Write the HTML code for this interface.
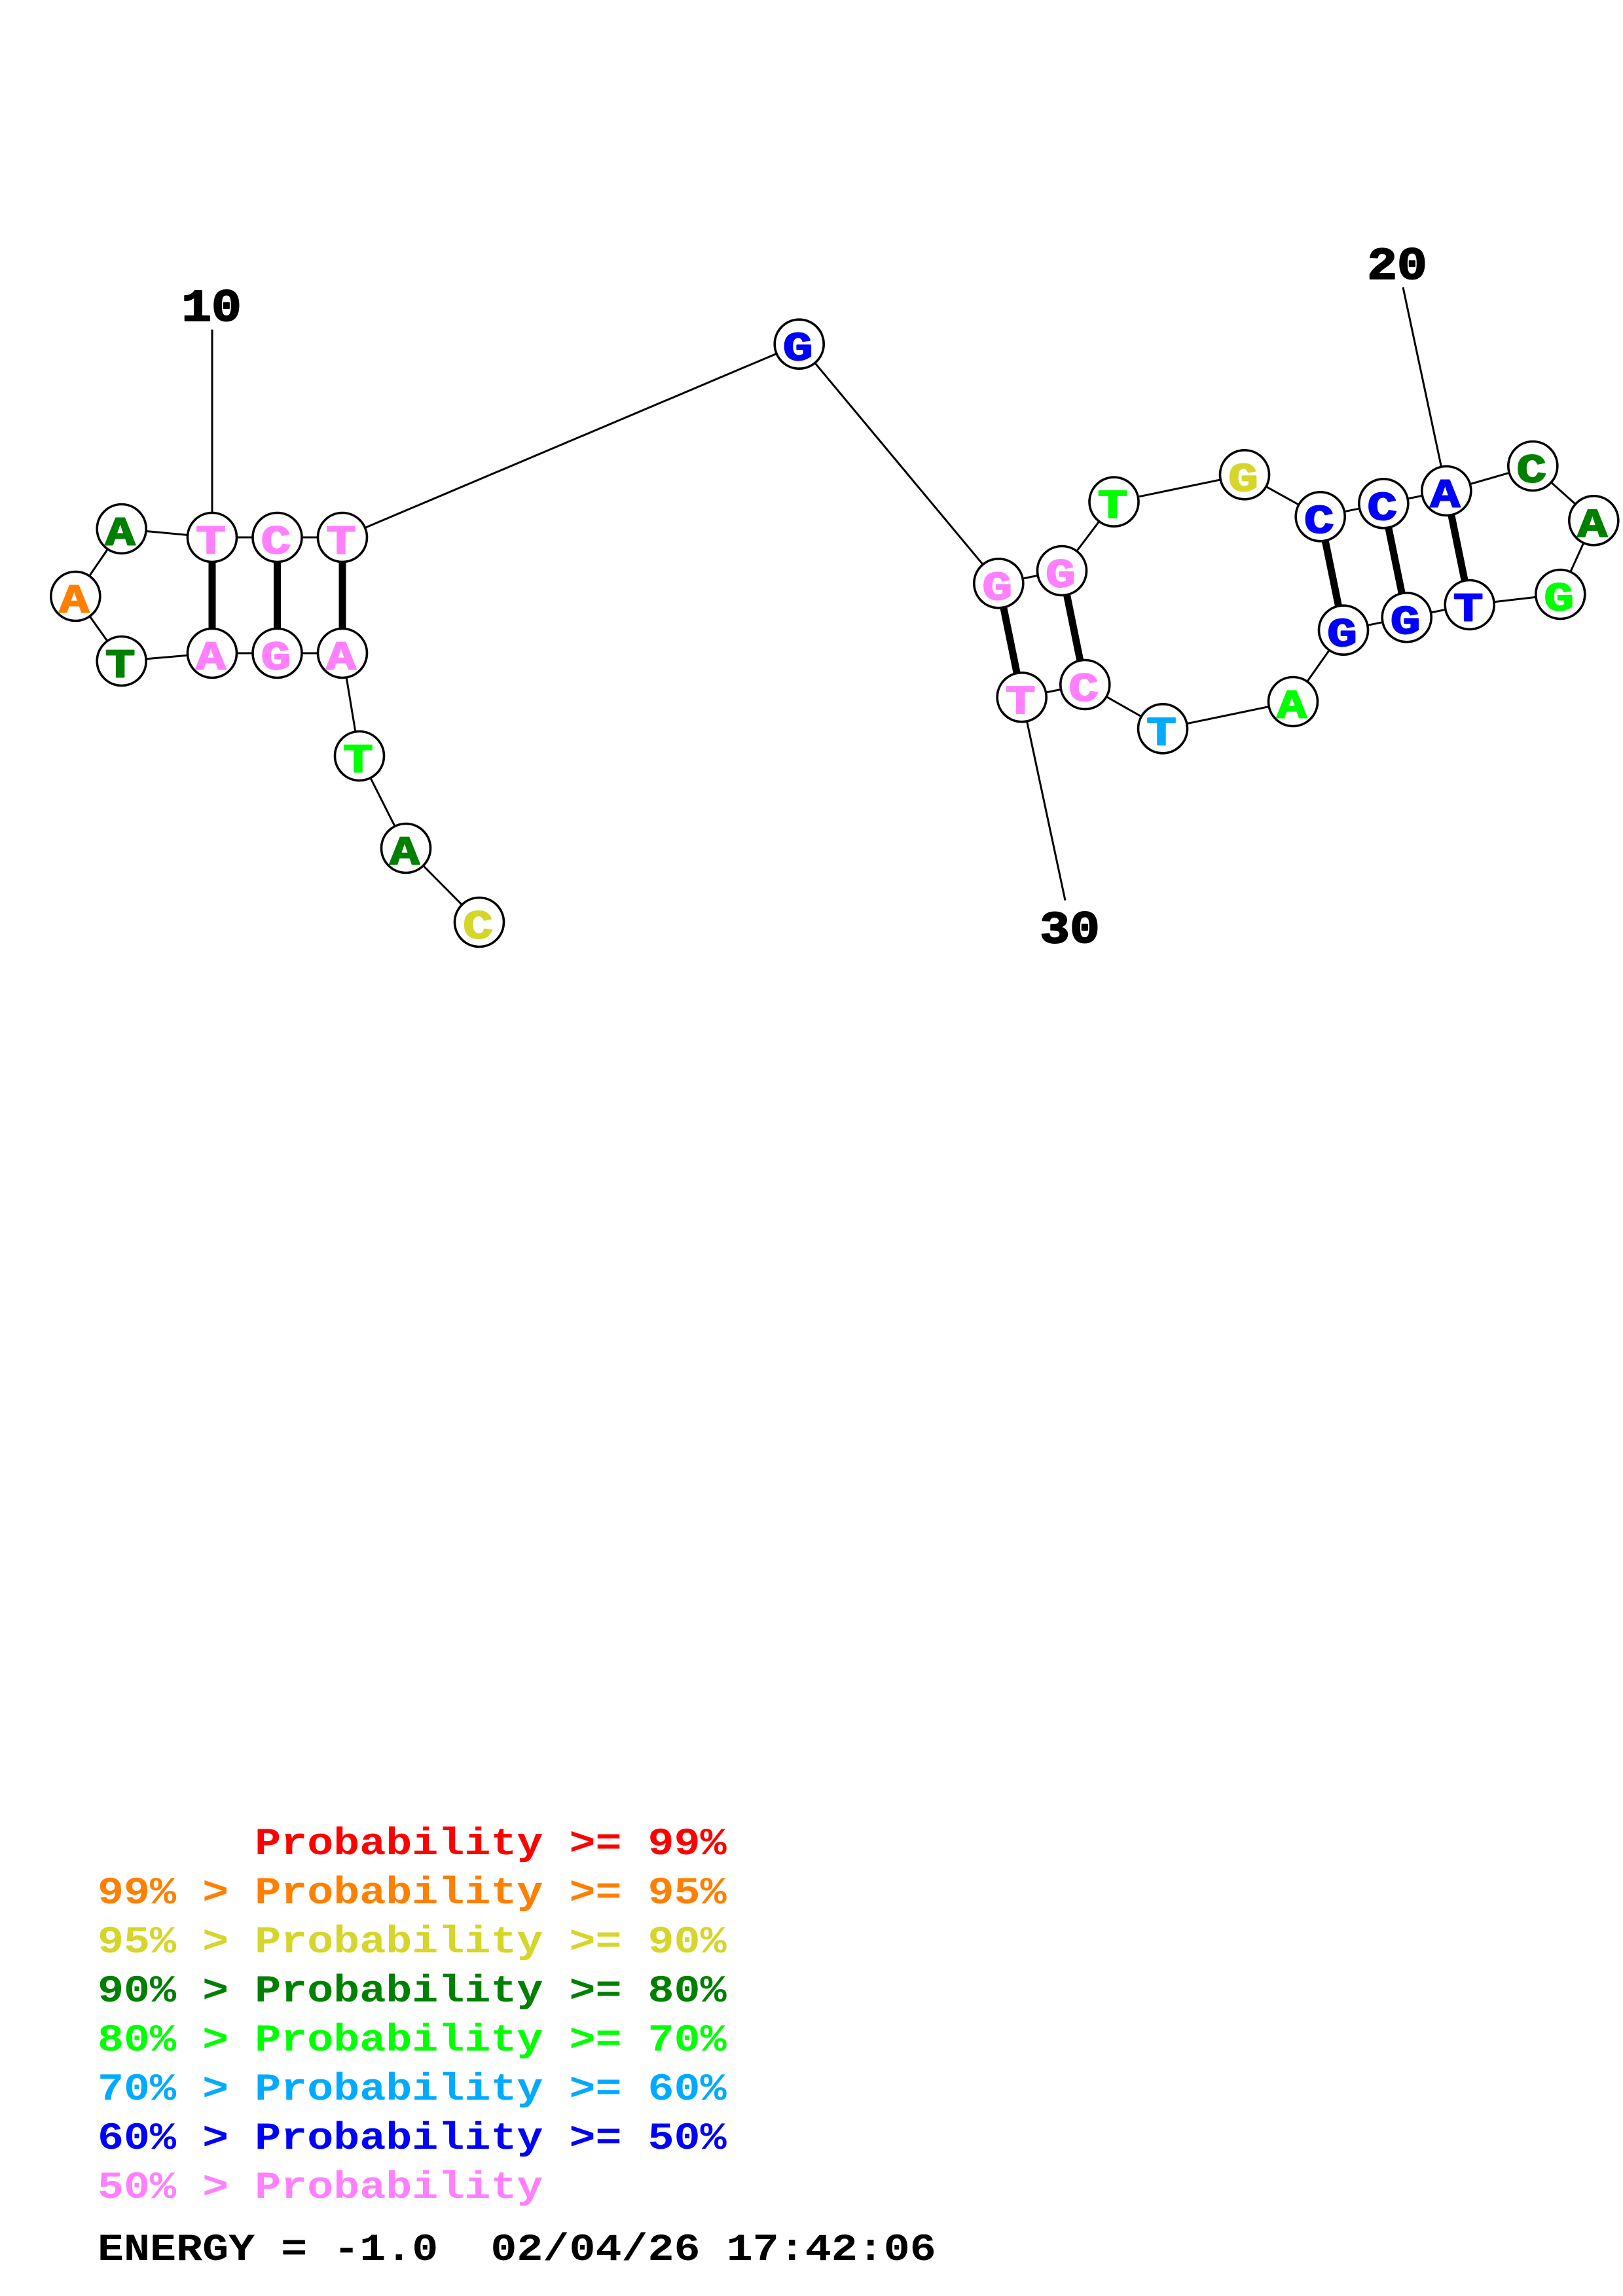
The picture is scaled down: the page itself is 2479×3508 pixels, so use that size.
<!DOCTYPE html>
<html><head><meta charset="utf-8"><style>
html,body{margin:0;padding:0;background:#fff}
svg{display:block}
.n{font:bold 62px "Liberation Mono",monospace;text-anchor:middle;stroke-width:2;stroke-linejoin:round;transform-box:fill-box;transform-origin:50% 50%;transform:translateY(-1px) scaleX(1.23)}
.l{font:bold 70px "Liberation Mono",monospace;text-anchor:middle;fill:#000;stroke:#000;stroke-width:2;stroke-linejoin:round;transform-box:fill-box;transform-origin:50% 50%;transform:scaleX(1.09)}
.g{font:bold 58px "Liberation Mono",monospace;white-space:pre}
</style></head><body>
<svg xmlns="http://www.w3.org/2000/svg" width="2479" height="3508" viewBox="0 0 2479 3508">
<rect width="2479" height="3508" fill="#fff"/>
<polyline fill="none" stroke="#000" stroke-width="3" points="732,1409 620,1296 549,1155 523,998 423.5,998 324,998 185.7,1010 115.3,911 185.7,808 324,821 423.5,821 523,821 1220.7,525.7 1525.3,891.3 1622,872 1701.5,766.7 1901,725.3 2016.7,789.3 2113.3,769.3 2209.3,750 2341.3,712 2434.3,795.3 2383.3,908 2244.7,924 2148.7,943.3 2052,962.7 1975,1072 1776,1113.3 1657.3,1046 1560.7,1065.3"/>
<g stroke="#000" stroke-width="3">
<line x1="324" y1="503.6" x2="324" y2="821"/>
<line x1="2143" y1="439" x2="2209.3" y2="750"/>
<line x1="1560.7" y1="1065.3" x2="1627" y2="1375.6"/>
</g>
<g stroke="#000" stroke-width="11">
<line x1="324" y1="821" x2="324" y2="998"/>
<line x1="423.5" y1="821" x2="423.5" y2="998"/>
<line x1="523" y1="821" x2="523" y2="998"/>
<line x1="1525.3" y1="891.3" x2="1560.7" y2="1065.3"/>
<line x1="1622" y1="872" x2="1657.3" y2="1046"/>
<line x1="2016.7" y1="789.3" x2="2052" y2="962.7"/>
<line x1="2113.3" y1="769.3" x2="2148.7" y2="943.3"/>
<line x1="2209.3" y1="750" x2="2244.7" y2="924"/>
</g>
<g fill="#fff" stroke="#000" stroke-width="3.6">
<circle cx="732" cy="1409" r="37.5"/><circle cx="620" cy="1296" r="37.5"/><circle cx="549" cy="1155" r="37.5"/>
<circle cx="523" cy="998" r="37.5"/><circle cx="423.5" cy="998" r="37.5"/><circle cx="324" cy="998" r="37.5"/>
<circle cx="185.7" cy="1010" r="37.5"/><circle cx="115.3" cy="911" r="37.5"/><circle cx="185.7" cy="808" r="37.5"/>
<circle cx="324" cy="821" r="37.5"/><circle cx="423.5" cy="821" r="37.5"/><circle cx="523" cy="821" r="37.5"/>
<circle cx="1220.7" cy="525.7" r="37.5"/><circle cx="1525.3" cy="891.3" r="37.5"/><circle cx="1622" cy="872" r="37.5"/>
<circle cx="1701.5" cy="766.7" r="37.5"/><circle cx="1901" cy="725.3" r="37.5"/><circle cx="2016.7" cy="789.3" r="37.5"/>
<circle cx="2113.3" cy="769.3" r="37.5"/><circle cx="2209.3" cy="750" r="37.5"/><circle cx="2341.3" cy="712" r="37.5"/>
<circle cx="2434.3" cy="795.3" r="37.5"/><circle cx="2383.3" cy="908" r="37.5"/><circle cx="2244.7" cy="924" r="37.5"/>
<circle cx="2148.7" cy="943.3" r="37.5"/><circle cx="2052" cy="962.7" r="37.5"/><circle cx="1975" cy="1072" r="37.5"/>
<circle cx="1776" cy="1113.3" r="37.5"/><circle cx="1657.3" cy="1046" r="37.5"/><circle cx="1560.7" cy="1065.3" r="37.5"/>
</g>
<g>
<text class="n" x="730" y="1434.5" fill="#d5d52a" stroke="#d5d52a">C</text>
<text class="n" x="618" y="1321.5" fill="#008000" stroke="#008000">A</text>
<text class="n" x="547" y="1180.5" fill="#00ff00" stroke="#00ff00">T</text>
<text class="n" x="521" y="1023.5" fill="#ff80ff" stroke="#ff80ff">A</text>
<text class="n" x="421.5" y="1023.5" fill="#ff80ff" stroke="#ff80ff">G</text>
<text class="n" x="322" y="1023.5" fill="#ff80ff" stroke="#ff80ff">A</text>
<text class="n" x="183.7" y="1035.5" fill="#008000" stroke="#008000">T</text>
<text class="n" x="113.3" y="936.5" fill="#ff8000" stroke="#ff8000">A</text>
<text class="n" x="183.7" y="833.5" fill="#008000" stroke="#008000">A</text>
<text class="n" x="322" y="846.5" fill="#ff80ff" stroke="#ff80ff">T</text>
<text class="n" x="421.5" y="846.5" fill="#ff80ff" stroke="#ff80ff">C</text>
<text class="n" x="521" y="846.5" fill="#ff80ff" stroke="#ff80ff">T</text>
<text class="n" x="1218.7" y="551" fill="#0000ff" stroke="#0000ff">G</text>
<text class="n" x="1523.3" y="916.8" fill="#ff80ff" stroke="#ff80ff">G</text>
<text class="n" x="1620" y="897.5" fill="#ff80ff" stroke="#ff80ff">G</text>
<text class="n" x="1699.5" y="792" fill="#00ff00" stroke="#00ff00">T</text>
<text class="n" x="1899" y="750.8" fill="#d5d52a" stroke="#d5d52a">G</text>
<text class="n" x="2014.7" y="814.8" fill="#0000ff" stroke="#0000ff">C</text>
<text class="n" x="2111.3" y="794.8" fill="#0000ff" stroke="#0000ff">C</text>
<text class="n" x="2207.3" y="775.5" fill="#0000ff" stroke="#0000ff">A</text>
<text class="n" x="2339.3" y="737.5" fill="#008000" stroke="#008000">C</text>
<text class="n" x="2432.3" y="820.8" fill="#008000" stroke="#008000">A</text>
<text class="n" x="2381.3" y="933.5" fill="#00ff00" stroke="#00ff00">G</text>
<text class="n" x="2242.7" y="949.5" fill="#0000ff" stroke="#0000ff">T</text>
<text class="n" x="2146.7" y="968.8" fill="#0000ff" stroke="#0000ff">G</text>
<text class="n" x="2050" y="988.2" fill="#0000ff" stroke="#0000ff">G</text>
<text class="n" x="1973" y="1097.5" fill="#00ff00" stroke="#00ff00">A</text>
<text class="n" x="1774" y="1138.8" fill="#00aaff" stroke="#00aaff">T</text>
<text class="n" x="1655.3" y="1071.5" fill="#ff80ff" stroke="#ff80ff">C</text>
<text class="n" x="1558.7" y="1090.8" fill="#ff80ff" stroke="#ff80ff">T</text>
</g>
<text class="l" x="323" y="490">10</text>
<text class="l" x="2134" y="426">20</text>
<text class="l" x="1634" y="1440">30</text>
<text class="g" transform="translate(149,2833) scale(1.15,1)" fill="#ff0000">      Probability &gt;= 99%</text>
<text class="g" transform="translate(149,2908) scale(1.15,1)" fill="#ff8000">99% &gt; Probability &gt;= 95%</text>
<text class="g" transform="translate(149,2983) scale(1.15,1)" fill="#d5d52a">95% &gt; Probability &gt;= 90%</text>
<text class="g" transform="translate(149,3058) scale(1.15,1)" fill="#008000">90% &gt; Probability &gt;= 80%</text>
<text class="g" transform="translate(149,3133) scale(1.15,1)" fill="#00ff00">80% &gt; Probability &gt;= 70%</text>
<text class="g" transform="translate(149,3208) scale(1.15,1)" fill="#00aaff">70% &gt; Probability &gt;= 60%</text>
<text class="g" transform="translate(149,3283) scale(1.15,1)" fill="#0000ff">60% &gt; Probability &gt;= 50%</text>
<text class="g" transform="translate(149,3358) scale(1.15,1)" fill="#ff80ff">50% &gt; Probability</text>
<text class="g" transform="translate(149,3453) scale(1.15,1)" fill="#000">ENERGY = -1.0  02/04/26 17:42:06</text>
</svg>
</body></html>
